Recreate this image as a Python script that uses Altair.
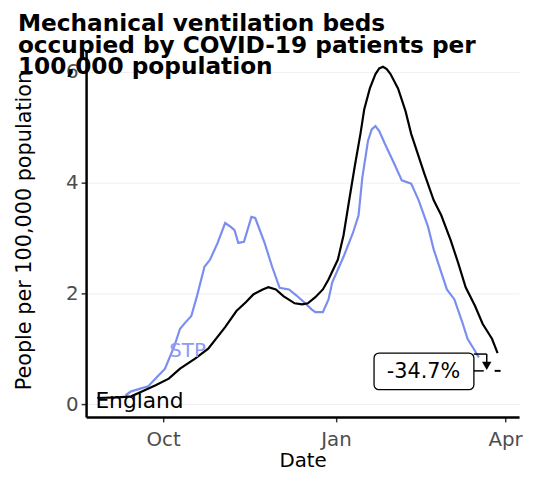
import altair as alt
import pandas as pd

# England (black) series
eng_dates = ["2020-08-27", "2020-09-07", "2020-09-14", "2020-09-20", "2020-09-27", "2020-10-04",
             "2020-10-10", "2020-10-18", "2020-10-25", "2020-11-03", "2020-11-09", "2020-11-14",
             "2020-11-18", "2020-11-23", "2020-11-26", "2020-11-30", "2020-12-04", "2020-12-10",
             "2020-12-14", "2020-12-17", "2020-12-21", "2020-12-25", "2020-12-28", "2021-01-02",
             "2021-01-05", "2021-01-08", "2021-01-11", "2021-01-14", "2021-01-16", "2021-01-19",
             "2021-01-22", "2021-01-24", "2021-01-26", "2021-01-28", "2021-01-30", "2021-02-03",
             "2021-02-07", "2021-02-10",
             "2021-02-17", "2021-02-22", "2021-02-26", "2021-03-03", "2021-03-07", "2021-03-11",
             "2021-03-16", "2021-03-20", "2021-03-25", "2021-03-28"]
eng_values = [0.11, 0.12, 0.14, 0.23, 0.34, 0.46,
              0.64, 0.82, 1.00, 1.39, 1.68, 1.84,
              1.98, 2.07, 2.11, 2.07, 1.95, 1.82,
              1.80, 1.82, 1.93, 2.07, 2.25, 2.61,
              3.05, 3.68, 4.30, 4.88, 5.32, 5.70,
              5.96, 6.06, 6.09, 6.05, 5.96, 5.70,
              5.29, 4.88,
              4.16, 3.68, 3.41, 2.96, 2.55, 2.11,
              1.77, 1.45, 1.18, 0.92]

# STP (blue) series
stp_dates = ["2020-09-11", "2020-09-14", "2020-09-23", "2020-09-28", "2020-10-02", "2020-10-07",
             "2020-10-10", "2020-10-13", "2020-10-16", "2020-10-19", "2020-10-23", "2020-10-26",
             "2020-10-30", "2020-11-03", "2020-11-06", "2020-11-08", "2020-11-10", "2020-11-13",
             "2020-11-17", "2020-11-19", "2020-11-24", "2020-11-28", "2020-12-02", "2020-12-07",
             "2020-12-11", "2020-12-15", "2020-12-19", "2020-12-21", "2020-12-25", "2020-12-28",
             "2020-12-30", "2021-01-05", "2021-01-10", "2021-01-13", "2021-01-15", "2021-01-18",
             "2021-01-20", "2021-01-22", "2021-01-24", "2021-01-27", "2021-02-01", "2021-02-05",
             "2021-02-10", "2021-02-14", "2021-02-19", "2021-02-22", "2021-02-26", "2021-03-01",
             "2021-03-05", "2021-03-09", "2021-03-12", "2021-03-16", "2021-03-18"]
stp_values = [0.16, 0.23, 0.32, 0.50, 0.64, 1.05,
              1.36, 1.48, 1.59, 1.95, 2.48, 2.61,
              2.91, 3.27, 3.20, 3.14, 2.91, 2.93,
              3.38, 3.36, 2.91, 2.48, 2.10, 2.07,
              1.96, 1.84, 1.71, 1.66, 1.66, 1.89,
              2.20, 2.66, 3.09, 3.41, 4.09, 4.75,
              4.96, 5.02, 4.93, 4.70, 4.34, 4.04,
              3.98, 3.68, 3.20, 2.79, 2.38, 2.07,
              1.89, 1.50, 1.18, 0.96, 0.84]

# Labels
series_names = ["England", "STP"]
series_colors = ["#000000", "#7b8ef0"]
stp_label_date = ["2020-10-14"]
stp_label_value = [0.95]
change_label = ["-34.7%"]
projected_value = [0.60]
y_ticks = [0, 2, 4, 6]

df = pd.concat([
    pd.DataFrame({"date": stp_dates, "value": stp_values, "series": "STP", "order": 0}),
    pd.DataFrame({"date": eng_dates, "value": eng_values, "series": "England", "order": 1}),
])

x_scale = alt.Scale(type="utc",
                    domain=[alt.DateTime(year=2020, month=8, date=21, utc=True),
                            alt.DateTime(year=2021, month=4, date=8, hours=10, utc=True)])
y_scale = alt.Scale(domain=[-0.232, 6.39], nice=False, zero=False)

x_enc = alt.X("date:T", scale=x_scale, title="Date",
              axis=alt.Axis(values=[alt.DateTime(year=2020, month=10, date=1, utc=True),
                                    alt.DateTime(year=2021, month=1, date=1, utc=True),
                                    alt.DateTime(year=2021, month=4, date=1, utc=True)],
                            labelExpr="utcFormat(datum.value, '%b')", grid=False,
                            labelPadding=8,
                            titleX=219, titleY=44, titleBaseline="middle", titleAlign="center"))
y_enc = alt.Y("value:Q", scale=y_scale, title="People per 100,000 population",
              axis=alt.Axis(values=y_ticks, format="d", grid=True, labelPadding=3,
                            titleX=-62, titleY=182, titleAngle=270, titleBaseline="middle",
                            titleAlign="center", titleFontSize=21))

lines = alt.Chart(df).mark_line(strokeWidth=2.2).encode(
    x=x_enc, y=y_enc,
    color=alt.Color("series:N", scale=alt.Scale(domain=series_names, range=series_colors), legend=None),
    detail="series:N",
    order="order:Q",
)

eng_label = alt.Chart(pd.DataFrame({"date": [eng_dates[0]], "value": [eng_values[0]], "t": ["England"]})).mark_text(
    align="left", baseline="middle", fontSize=22, dx=-2, dy=3, color="black"
).encode(x="date:T", y="value:Q", text="t:N")

stp_label = alt.Chart(pd.DataFrame({"date": stp_label_date, "value": stp_label_value, "t": ["STP"]})).mark_text(
    align="center", baseline="middle", fontSize=20, color="#8c9cf5"
).encode(x="date:T", y="value:Q", text="t:N")

ann_df = pd.DataFrame({"date": [eng_dates[-1]], "value": projected_value, "t": change_label})
ann = alt.Chart(ann_df)
box = ann.mark_rect(xOffset=-125, x2Offset=-24, yOffset=-18, y2Offset=19, cornerRadius=5,
                    fill="white", stroke="black", strokeWidth=1.3).encode(
    x="date:T", x2="date:T", y="value:Q", y2="value:Q")
box_text = ann.mark_text(dx=-75, dy=1, fontSize=21, color="black", align="center", baseline="middle").encode(
    x="date:T", y="value:Q", text="t:N")
seg1 = ann.mark_rule(xOffset=-24, x2Offset=-11, yOffset=-17, color="black", strokeWidth=1.5).encode(
    x="date:T", x2="date:T", y="value:Q")
seg2 = ann.mark_rule(xOffset=-11, yOffset=-17, y2Offset=-7, color="black", strokeWidth=1.5).encode(
    x="date:T", y="value:Q", y2="value:Q")
seg3 = ann.mark_rule(xOffset=-24, x2Offset=-14, color="black", strokeWidth=1.5).encode(
    x="date:T", x2="date:T", y="value:Q")
arrow = ann.mark_point(shape="triangle-down", filled=True, color="black", size=90, opacity=1,
                       xOffset=-11, yOffset=-5).encode(x="date:T", y="value:Q")
dash = ann.mark_rule(xOffset=-3, x2Offset=3, color="black", strokeWidth=2).encode(
    x="date:T", x2="date:T", y="value:Q")

chart = alt.layer(lines, eng_label, stp_label, box, box_text, seg1, seg2, seg3, arrow, dash).properties(
    width=438, height=371,
    autosize="none",
    padding={"left": 79, "top": 40, "right": 6, "bottom": 53},
    background="white",
    title=alt.TitleParams(
        text=["Mechanical ventilation beds", "occupied by COVID-19 patients per", "100,000 population"],
        fontSize=23.5, fontWeight="bold", font="DejaVu Sans", color="black",
        anchor="start", frame="group", dx=-69, dy=29, lineHeight=22, offset=0,
    ),
).configure_view(stroke=None).configure_axis(
    labelFont="DejaVu Sans", titleFont="DejaVu Sans", labelFontSize=20, titleFontSize=20,
    labelColor="#4d4d4d", titleColor="black", titleFontWeight="normal",
    domainColor="black", domainWidth=2.5, tickColor="#333333", tickSize=5, tickWidth=1.5,
    gridColor="#efefef", gridWidth=1,
).configure_text(font="DejaVu Sans")

chart.save("out.html", embed_options={"renderer": "svg", "actions": False})
